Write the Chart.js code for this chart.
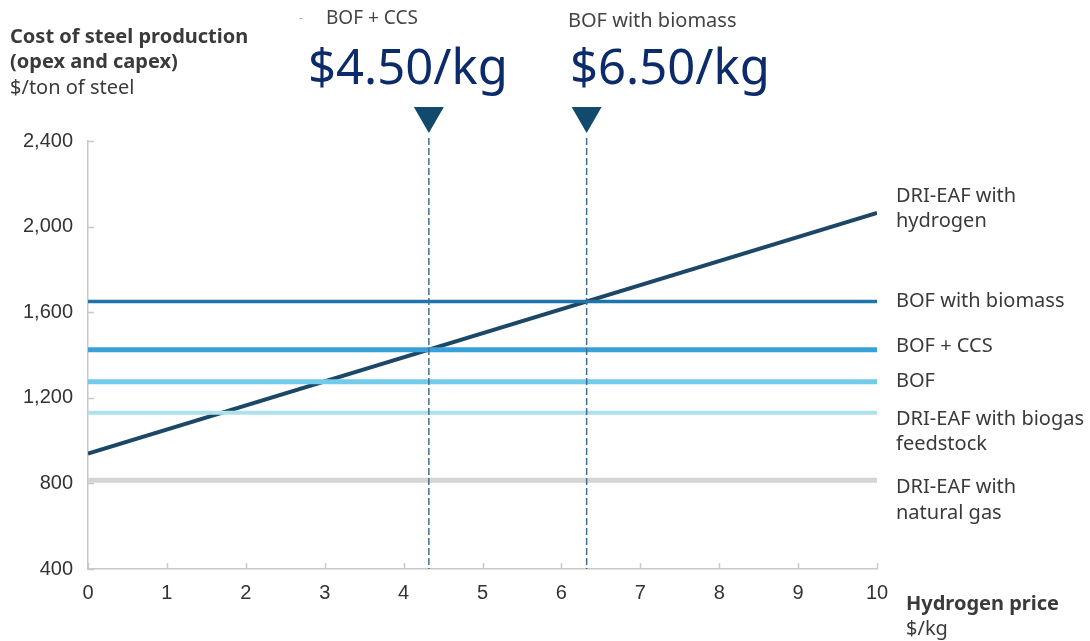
<!DOCTYPE html>
<html>
<head>
<meta charset="utf-8">
<script src="https://cdn.jsdelivr.net/npm/chart.js@4.4.1/dist/chart.umd.min.js"></script>
<style>
  html, body { margin: 0; padding: 0; background: #fff; }
  #wrap { width: 1090px; height: 641px; position: relative; }
</style>
</head>
<body>
<div id="wrap"><canvas id="steelChart"></canvas></div>
<script>
// hydrogen price ($/kg) at the two ends of the x axis
const hydrogenPrice = [0, 10];

// cost of steel production, $/ton
const driEafHydrogen = [939, 2064];
const bofBiomass = [1650, 1650];
const bofCcs = [1425, 1425];
const bof = [1275, 1275];
const driEafBiogas = [1130, 1130];
const driEafNaturalGas = [815, 815];

// break-even hydrogen prices marked with the arrows
const breakEvenPrices = [4.32, 6.32];
const breakEvenLabels = ["$4.50/kg", "$6.50/kg"];
const breakEvenRoutes = ["BOF + CCS", "BOF with biomass"];

const yTicks = [400, 800, 1200, 1600, 2000, 2400];
const xTicks = [0, 1, 2, 3, 4, 5, 6, 7, 8, 9, 10];

const toPoints = vals => hydrogenPrice.map((x, i) => ({ x: x, y: vals[i] }));

const routes = [
  { name: ["DRI-EAF with", "hydrogen"], values: driEafHydrogen, color: "#1c4766", width: 4, dy: [-17, 8] },
  { name: ["BOF with biomass"], values: bofBiomass, color: "#1f74aa", width: 3.5, dy: [0] },
  { name: ["BOF + CCS"], values: bofCcs, color: "#38a1da", width: 5, dy: [-3] },
  { name: ["BOF"], values: bof, color: "#72cbeb", width: 5, dy: [0] },
  { name: ["DRI-EAF with biogas", "feedstock"], values: driEafBiogas, color: "#aee0ee", width: 4, dy: [7, 32] },
  { name: ["DRI-EAF with", "natural gas"], values: driEafNaturalGas, color: "#d4d4d4", width: 5, dy: [7, 33] }
];

const textFont = '"Noto Sans", "Open Sans", sans-serif';
const tickFont = '"Liberation Sans", Arial, sans-serif';

const annotations = {
  id: "annotations",
  afterDraw(chart) {
    const ctx = chart.ctx;
    const x = chart.scales.x;
    const y = chart.scales.y;
    const area = chart.chartArea;
    ctx.save();

    // inward tick marks
    ctx.strokeStyle = "#c8c8c8";
    ctx.lineWidth = 1.5;
    yTicks.forEach(v => {
      const py = Math.round(y.getPixelForValue(v)) + 0.5;
      ctx.beginPath();
      ctx.moveTo(area.left, py);
      ctx.lineTo(area.left + 6, py);
      ctx.stroke();
    });
    xTicks.forEach(v => {
      const px = Math.round(x.getPixelForValue(v)) + 0.5;
      ctx.beginPath();
      ctx.moveTo(px, area.bottom);
      ctx.lineTo(px, area.bottom - 6);
      ctx.stroke();
    });

    // break-even markers
    breakEvenPrices.forEach(p => {
      const px = x.getPixelForValue(p);
      ctx.strokeStyle = "#3e6f90";
      ctx.lineWidth = 1.5;
      ctx.setLineDash([7, 3]);
      ctx.beginPath();
      ctx.moveTo(px, 138);
      ctx.lineTo(px, area.bottom);
      ctx.stroke();
      ctx.setLineDash([]);
      ctx.fillStyle = "#114a6c";
      ctx.beginPath();
      ctx.moveTo(px - 15, 107);
      ctx.lineTo(px + 15, 107);
      ctx.lineTo(px, 133);
      ctx.closePath();
      ctx.fill();
    });

    // price callouts above the chart
    const calloutX = [308, 570];
    const routeX = [326, 568];
    ctx.textBaseline = "middle";
    ctx.textAlign = "left";
    breakEvenLabels.forEach((label, i) => {
      ctx.fillStyle = "#0c2b6b";
      ctx.font = "49px " + textFont;
      ctx.fillText(label, calloutX[i], 70);
      ctx.fillStyle = "#444";
      ctx.font = (i === 0 ? "19px " : "20px ") + textFont;
      ctx.fillText(breakEvenRoutes[i], routeX[i], i === 0 ? 19 : 21);
    });
    ctx.fillStyle = "#999";
    ctx.font = "11px " + textFont;
    ctx.fillText("-", 299, 18);

    // y axis title
    ctx.fillStyle = "#3a3a3a";
    ctx.font = "bold 20px " + textFont;
    ctx.fillText("Cost of steel production", 10, 37);
    ctx.fillText("(opex and capex)", 10, 62);
    ctx.font = "20px " + textFont;
    ctx.fillText("$/ton of steel", 10, 88);

    // x axis title
    ctx.font = "bold 20px " + textFont;
    ctx.fillText("Hydrogen price", 906, 604);
    ctx.font = "20px " + textFont;
    ctx.fillText("$/kg", 906, 629);

    // route labels at the right end of each line
    ctx.fillStyle = "#3a3a3a";
    ctx.font = "20px " + textFont;
    routes.forEach(r => {
      const base = y.getPixelForValue(r.values[r.values.length - 1]);
      r.name.forEach((line, j) => {
        ctx.fillText(line, 896, base + r.dy[j]);
      });
    });
    ctx.restore();
  }
};

new Chart(document.getElementById("steelChart"), {
  type: "line",
  data: {
    datasets: routes.slice().reverse().map(r => ({
      label: r.name.join(" "),
      data: toPoints(r.values),
      borderColor: r.color,
      borderWidth: r.width,
      pointRadius: 0,
      fill: false
    }))
  },
  options: {
    responsive: true,
    maintainAspectRatio: false,
    animation: false,
    layout: { padding: { top: 141, right: 213, bottom: 0, left: 0 } },
    plugins: { legend: { display: false }, tooltip: { enabled: false } },
    scales: {
      x: {
        type: "linear",
        min: 0,
        max: 10,
        afterBuildTicks: s => { s.ticks = xTicks.map(v => ({ value: v })); },
        afterFit: s => { s.height = 72; },
        grid: { display: false, drawTicks: false },
        border: { display: true, color: "#c8c8c8", width: 1.5 },
        ticks: { padding: 12, color: "#333", font: { family: tickFont, size: 20 } }
      },
      y: {
        min: 400,
        max: 2400,
        afterBuildTicks: s => { s.ticks = yTicks.map(v => ({ value: v })); },
        afterFit: s => { s.width = 88; },
        grid: { display: false, drawTicks: false },
        border: { display: true, color: "#c8c8c8", width: 1.5 },
        ticks: {
          padding: 15,
          color: "#333",
          font: { family: tickFont, size: 20 },
          callback: v => v.toLocaleString("en-US")
        }
      }
    }
  },
  plugins: [annotations]
});
</script>
</body>
</html>
